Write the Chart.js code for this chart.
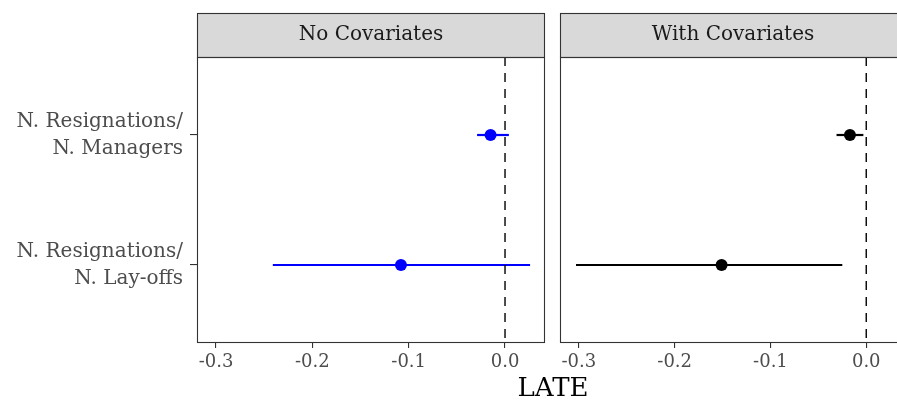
<!DOCTYPE html>
<html>
<head>
<meta charset="utf-8">
<script src="https://cdn.jsdelivr.net/npm/chart.js@4"></script>
<style>
  html, body { margin: 0; padding: 0; background: #fff; overflow: hidden; width: 897px; height: 403px; }
  #wrap { position: relative; width: 897px; height: 403px; overflow: hidden; }
  #c1 { position: absolute; left: 0; top: 0; }
  #c2 { position: absolute; left: 552px; top: 0; }
  #xtitle { position: absolute; left: 453px; width: 200px; top: 371px; text-align: center;
    font-family: "DejaVu Serif", "Liberation Serif", serif; font-size: 26px; color: #000; line-height: 32px; }
</style>
</head>
<body>
<div id="wrap">
  <canvas id="c1" width="552" height="403"></canvas>
  <canvas id="c2" width="360" height="403"></canvas>
  <div id="xtitle">LATE</div>
</div>
<script>
// outcomes, top to bottom
var categories = [["N. Resignations/", "N. Managers"], ["N. Resignations/", "N. Lay-offs"]];
var panels = ["No Covariates", "With Covariates"];
var xTicks = [-0.3, -0.2, -0.1, 0.0];
var xTickLabels = ["-0.3", "-0.2", "-0.1", "0.0"];

// estimates and intervals, one entry per category
var noCovEst = [-0.015, -0.108];
var noCovLow = [-0.029, -0.241];
var noCovHigh = [0.004, 0.026];

var withCovEst = [-0.017, -0.151];
var withCovLow = [-0.031, -0.303];
var withCovHigh = [-0.003, -0.025];

var serif = '"DejaVu Serif", "Liberation Serif", serif';

// strip on top + panel frame
var facetPlugin = {
  id: "facet",
  beforeDraw: function (chart, args, opts) {
    var ctx = chart.ctx, a = chart.chartArea;
    ctx.save();
    ctx.fillStyle = "#D9D9D9";
    ctx.fillRect(a.left, 13, a.right - a.left, a.top - 13);
    ctx.strokeStyle = "#333333";
    ctx.lineWidth = 1.1;
    ctx.strokeRect(a.left + 0.5, 13.5, a.right - a.left - 1, a.top - 13);
    ctx.fillStyle = "#1A1A1A";
    ctx.font = "20px " + serif;
    ctx.textAlign = "center";
    ctx.textBaseline = "middle";
    ctx.fillText(opts.title, (a.left + a.right) / 2, (13 + a.top) / 2);
    ctx.restore();
  },
  afterDatasetsDraw: function (chart) {
    var ctx = chart.ctx, a = chart.chartArea;
    ctx.save();
    ctx.strokeStyle = "#333333";
    ctx.lineWidth = 1.1;
    ctx.strokeRect(a.left + 0.5, a.top + 0.5, a.right - a.left - 1, a.bottom - a.top - 1);
    ctx.restore();
  }
};

function makeChart(id, title, est, low, high, color, showY, pad) {
  var datasets = [];
  // dashed reference line at zero
  datasets.push({
    type: "line",
    data: [{ x: 0, y: 0.4 }, { x: 0, y: 2.6 }],
    borderColor: "#000",
    borderWidth: 1.4,
    borderDash: [9, 7],
    pointRadius: 0
  });
  for (var i = 0; i < est.length; i++) {
    datasets.push({
      type: "line",
      data: [{ x: low[i], y: i + 1 }, { x: high[i], y: i + 1 }],
      borderColor: color,
      borderWidth: 2.2,
      pointRadius: 0
    });
  }
  datasets.push({
    type: "scatter",
    data: est.map(function (v, i) { return { x: v, y: i + 1 }; }),
    backgroundColor: color,
    borderColor: color,
    pointRadius: 6,
    pointBorderWidth: 0
  });

  return new Chart(document.getElementById(id), {
    type: "scatter",
    data: { datasets: datasets },
    options: {
      responsive: false,
      animation: false,
      events: [],
      layout: { padding: pad },
      plugins: { legend: { display: false }, tooltip: { enabled: false }, facet: { title: title } },
      scales: {
        x: {
          type: "linear",
          min: -0.3197,
          max: 0.0415,
          afterBuildTicks: function (s) { s.ticks = xTicks.map(function (v) { return { value: v }; }); },
          afterFit: function (s) { s.height = 60; },
          border: { display: false },
          grid: { drawOnChartArea: false, tickLength: 5, tickColor: "#333333", lineWidth: 1.1 },
          ticks: {
            padding: 4,
            color: "#4D4D4D",
            font: { family: serif, size: 18 },
            callback: function (v, i) { return xTickLabels[i]; }
          }
        },
        y: {
          type: "linear",
          display: showY,
          min: 0.4,
          max: 2.6,
          reverse: true,
          afterBuildTicks: function (s) { s.ticks = categories.map(function (c, i) { return { value: i + 1 }; }); },
          afterFit: function (s) { s.width = showY ? 197 : 0; },
          border: { display: false },
          grid: { drawOnChartArea: false, tickLength: 7, tickColor: "#333333", lineWidth: 1.1 },
          ticks: {
            padding: 7,
            color: "#4D4D4D",
            font: { family: serif, size: 20, lineHeight: 1.35 },
            callback: function (v, i) { return categories[i]; }
          }
        }
      }
    },
    plugins: [facetPlugin]
  });
}

makeChart("c1", panels[0], noCovEst, noCovLow, noCovHigh, "#0000FF", true, { top: 57, right: 7, left: 0, bottom: 0 });
makeChart("c2", panels[1], withCovEst, withCovLow, withCovHigh, "#000000", false, { top: 57, right: 4, left: 8, bottom: 0 });
</script>
</body>
</html>
